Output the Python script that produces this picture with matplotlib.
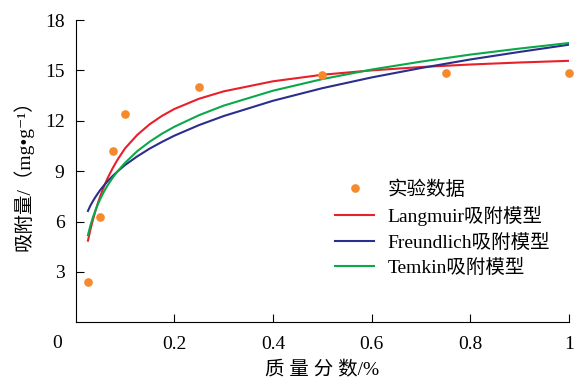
import matplotlib
matplotlib.use('Agg')
import matplotlib.pyplot as plt

plt.rcParams['font.family'] = ['Liberation Serif', 'Noto Sans CJK SC', 'DejaVu Sans']

# experimental points
exp_x = [0.025, 0.05, 0.075, 0.1, 0.25, 0.5, 0.75, 1.0]
exp_y = [2.38, 6.27, 10.17, 12.40, 14.02, 14.70, 14.82, 14.87]

# model curves
curve_x = [0.025, 0.03, 0.035, 0.04, 0.045, 0.05, 0.055, 0.06, 0.065, 0.075,
           0.085, 0.1, 0.125, 0.15, 0.175, 0.2, 0.25, 0.3, 0.4, 0.5,
           0.6, 0.7, 0.8, 0.9, 1.0]
langmuir_y = [4.86, 5.51, 6.09, 6.61, 7.08, 7.51, 7.90, 8.26, 8.59, 9.17,
              9.68, 10.35, 11.16, 11.79, 12.29, 12.70, 13.31, 13.75, 14.35, 14.74,
              15.00, 15.20, 15.35, 15.47, 15.57]
freundlich_y = [6.63, 6.95, 7.21, 7.45, 7.67, 7.88, 8.06, 8.24, 8.40, 8.71,
                8.98, 9.36, 9.88, 10.34, 10.74, 11.11, 11.74, 12.28, 13.19, 13.94,
                14.58, 15.14, 15.65, 16.10, 16.53]
temkin_y = [5.19, 5.76, 6.24, 6.65, 7.02, 7.34, 7.64, 7.91, 8.16, 8.60,
            8.99, 9.49, 10.19, 10.75, 11.23, 11.64, 12.33, 12.90, 13.79, 14.48,
            15.05, 15.52, 15.94, 16.30, 16.63]

x_ticks = [0.2, 0.4, 0.6, 0.8, 1.0]
x_labels = ['0.2', '0.4', '0.6', '0.8', '1']
y_ticks = [3, 6, 9, 12, 15, 18]

fig = plt.figure(figsize=(5.78, 3.81), dpi=100)
ax = fig.add_axes([0.1308, 0.1541, 0.8536, 0.7934])

ax.plot(exp_x, exp_y, 'o', color='#F5892B', markersize=5.2, clip_on=False,
        label='实验数据', zorder=3)
ax.plot(curve_x, langmuir_y, color='#E8202A', lw=1.5, label='Langmuir吸附模型')
ax.plot(curve_x, freundlich_y, color='#2B2E8C', lw=1.5, label='Freundlich吸附模型')
ax.plot(curve_x, temkin_y, color='#0BA84A', lw=1.5, label='Temkin吸附模型')

ax.set_xlim(0, 1)
ax.set_ylim(0, 18)
ax.set_xticks(x_ticks)
ax.set_xticklabels(x_labels)
ax.set_yticks(y_ticks)
ax.tick_params(direction='in', length=5.5, width=0.8, labelsize=14)
ax.tick_params(axis='x', pad=10)
ax.tick_params(axis='y', pad=8)
for s in ['top', 'right']:
    ax.spines[s].set_visible(False)
for s in ['left', 'bottom']:
    ax.spines[s].set_linewidth(0.8)

ax.text(-0.038, -0.07, '0', transform=ax.transAxes, fontsize=14,
        ha='center', va='center')

ax.set_xlabel('质 量 分 数/%', fontsize=14, labelpad=6)
ax.set_ylabel('吸附量/（mg•g⁻¹）', fontsize=14, labelpad=8)

ax.legend(loc='upper left', bbox_to_anchor=(0.526, 0.47), frameon=False,
          fontsize=14, handlelength=2.0, handletextpad=0.7, labelspacing=0.38,
          borderpad=0, borderaxespad=0)

fig.savefig('out.png', dpi=100)
